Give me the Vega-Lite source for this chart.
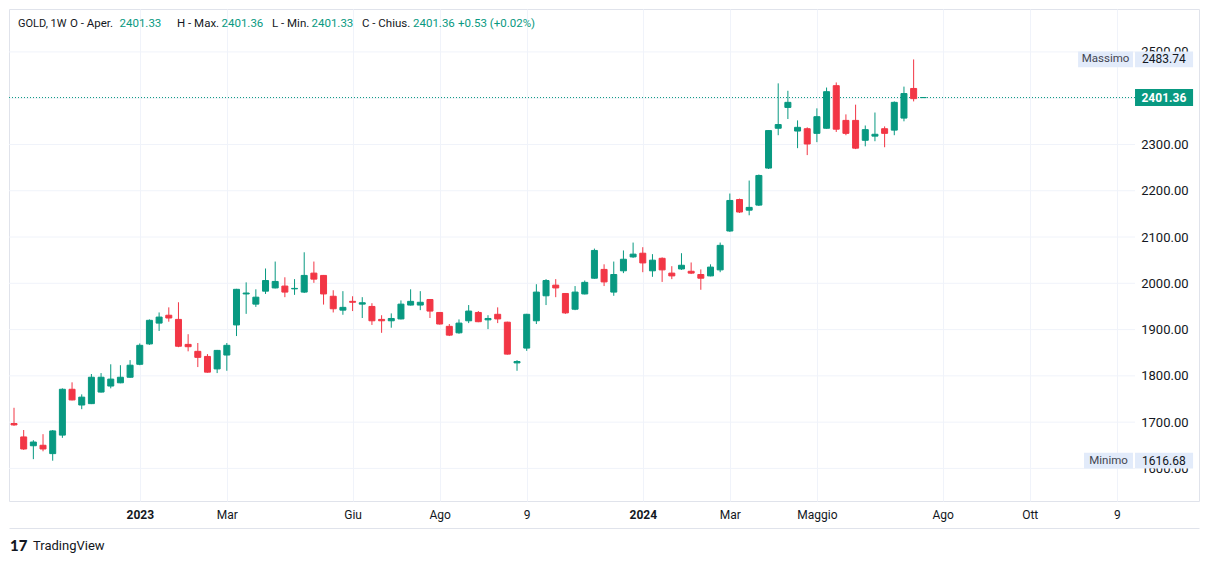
{
  "$schema": "https://vega.github.io/schema/vega-lite/v6.json",
  "width": 1190,
  "height": 492,
  "autosize": {"type": "none"},
  "padding": {"left": 9, "top": 9, "right": 10, "bottom": 63},
  "background": "#ffffff",
  "config": {"font": "Roboto", "view": {"stroke": "#e0e3eb"}},
  "datasets": {
    "grid": [{"p":1600},{"p":1700},{"p":1800},{"p":1900},{"p":2000},{"p":2100},{"p":2200},{"p":2300},{"p":2400},{"p":2500}],
    "candles": [
      {"d":"2022-10-03","o":1697,"h":1731,"l":1692,"c":1694},
      {"d":"2022-10-10","o":1668,"h":1683,"l":1640,"c":1642},
      {"d":"2022-10-17","o":1649,"h":1661,"l":1620,"c":1657},
      {"d":"2022-10-24","o":1650,"h":1674,"l":1637,"c":1642},
      {"d":"2022-10-31","o":1632,"h":1683,"l":1616.68,"c":1681},
      {"d":"2022-11-07","o":1672,"h":1773,"l":1666,"c":1771},
      {"d":"2022-11-14","o":1771,"h":1786,"l":1747,"c":1748},
      {"d":"2022-11-21","o":1737,"h":1760,"l":1728,"c":1754},
      {"d":"2022-11-28","o":1740,"h":1804,"l":1739,"c":1797},
      {"d":"2022-12-05","o":1765,"h":1806,"l":1764,"c":1797},
      {"d":"2022-12-12","o":1778,"h":1825,"l":1773,"c":1793},
      {"d":"2022-12-19","o":1785,"h":1823,"l":1784,"c":1797},
      {"d":"2022-12-26","o":1797,"h":1834,"l":1796,"c":1823},
      {"d":"2023-01-02","o":1825,"h":1870,"l":1823,"c":1866},
      {"d":"2023-01-09","o":1869,"h":1922,"l":1867,"c":1920},
      {"d":"2023-01-16","o":1914,"h":1937,"l":1897,"c":1927},
      {"d":"2023-01-23","o":1931,"h":1948,"l":1917,"c":1925},
      {"d":"2023-01-30","o":1922,"h":1959,"l":1862,"c":1864},
      {"d":"2023-02-06","o":1868,"h":1890,"l":1853,"c":1863},
      {"d":"2023-02-13","o":1853,"h":1871,"l":1819,"c":1840},
      {"d":"2023-02-20","o":1842,"h":1847,"l":1807,"c":1808},
      {"d":"2023-02-27","o":1815,"h":1856,"l":1806,"c":1855},
      {"d":"2023-03-06","o":1845,"h":1871,"l":1811,"c":1866},
      {"d":"2023-03-13","o":1910,"h":1988,"l":1886,"c":1987},
      {"d":"2023-03-20","o":1977,"h":2002,"l":1934,"c":1979},
      {"d":"2023-03-27","o":1955,"h":1987,"l":1949,"c":1970},
      {"d":"2023-04-03","o":1983,"h":2032,"l":1977,"c":2006},
      {"d":"2023-04-10","o":1990,"h":2047,"l":1989,"c":2004},
      {"d":"2023-04-17","o":1994,"h":2013,"l":1970,"c":1981},
      {"d":"2023-04-24","o":1988,"h":2009,"l":1975,"c":1989},
      {"d":"2023-05-01","o":1981,"h":2067,"l":1979,"c":2017},
      {"d":"2023-05-08","o":2022,"h":2047,"l":2001,"c":2009},
      {"d":"2023-05-15","o":2017,"h":2018,"l":1954,"c":1977},
      {"d":"2023-05-22","o":1972,"h":1985,"l":1937,"c":1945},
      {"d":"2023-05-29","o":1942,"h":1983,"l":1932,"c":1948},
      {"d":"2023-06-05","o":1961,"h":1972,"l":1940,"c":1959},
      {"d":"2023-06-12","o":1955,"h":1970,"l":1925,"c":1958},
      {"d":"2023-06-19","o":1950,"h":1957,"l":1910,"c":1919},
      {"d":"2023-06-26","o":1922,"h":1931,"l":1893,"c":1919},
      {"d":"2023-07-03","o":1919,"h":1935,"l":1904,"c":1924},
      {"d":"2023-07-10","o":1923,"h":1963,"l":1922,"c":1955},
      {"d":"2023-07-17","o":1953,"h":1987,"l":1952,"c":1961},
      {"d":"2023-07-24","o":1953,"h":1983,"l":1942,"c":1959},
      {"d":"2023-07-31","o":1965,"h":1966,"l":1925,"c":1940},
      {"d":"2023-08-07","o":1937,"h":1938,"l":1911,"c":1912},
      {"d":"2023-08-14","o":1907,"h":1912,"l":1886,"c":1888},
      {"d":"2023-08-21","o":1893,"h":1922,"l":1891,"c":1914},
      {"d":"2023-08-28","o":1919,"h":1953,"l":1914,"c":1940},
      {"d":"2023-09-04","o":1937,"h":1940,"l":1916,"c":1917},
      {"d":"2023-09-11","o":1921,"h":1931,"l":1901,"c":1924},
      {"d":"2023-09-18","o":1933,"h":1948,"l":1914,"c":1923},
      {"d":"2023-09-25","o":1916,"h":1917,"l":1846,"c":1847},
      {"d":"2023-10-02","o":1828,"h":1834,"l":1811,"c":1831},
      {"d":"2023-10-09","o":1860,"h":1934,"l":1854,"c":1933},
      {"d":"2023-10-16","o":1919,"h":1998,"l":1912,"c":1981},
      {"d":"2023-10-23","o":1973,"h":2009,"l":1953,"c":2006},
      {"d":"2023-10-30","o":1996,"h":2009,"l":1970,"c":1990},
      {"d":"2023-11-06","o":1978,"h":1979,"l":1934,"c":1936},
      {"d":"2023-11-13","o":1944,"h":1994,"l":1942,"c":1981},
      {"d":"2023-11-20","o":1977,"h":2006,"l":1976,"c":2002},
      {"d":"2023-11-27","o":2011,"h":2075,"l":2010,"c":2071},
      {"d":"2023-12-04","o":2030,"h":2041,"l":1994,"c":2003},
      {"d":"2023-12-11","o":1981,"h":2047,"l":1973,"c":2019},
      {"d":"2023-12-18","o":2027,"h":2071,"l":2022,"c":2052},
      {"d":"2023-12-25","o":2057,"h":2088,"l":2055,"c":2063},
      {"d":"2024-01-01","o":2065,"h":2078,"l":2024,"c":2044},
      {"d":"2024-01-08","o":2027,"h":2063,"l":2014,"c":2050},
      {"d":"2024-01-15","o":2054,"h":2056,"l":2003,"c":2029},
      {"d":"2024-01-22","o":2022,"h":2037,"l":2009,"c":2016},
      {"d":"2024-01-29","o":2031,"h":2065,"l":2029,"c":2039},
      {"d":"2024-02-05","o":2026,"h":2045,"l":2020,"c":2022},
      {"d":"2024-02-12","o":2019,"h":2030,"l":1986,"c":2011},
      {"d":"2024-02-19","o":2016,"h":2041,"l":2015,"c":2035},
      {"d":"2024-02-26","o":2029,"h":2088,"l":2024,"c":2082},
      {"d":"2024-03-04","o":2113,"h":2194,"l":2111,"c":2179},
      {"d":"2024-03-11","o":2181,"h":2183,"l":2152,"c":2154},
      {"d":"2024-03-18","o":2158,"h":2222,"l":2147,"c":2164},
      {"d":"2024-03-25","o":2169,"h":2235,"l":2167,"c":2233},
      {"d":"2024-04-01","o":2249,"h":2331,"l":2247,"c":2330},
      {"d":"2024-04-08","o":2335,"h":2432,"l":2320,"c":2343},
      {"d":"2024-04-15","o":2380,"h":2416,"l":2355,"c":2391},
      {"d":"2024-04-22","o":2329,"h":2352,"l":2292,"c":2337},
      {"d":"2024-04-29","o":2334,"h":2337,"l":2277,"c":2301},
      {"d":"2024-05-06","o":2324,"h":2378,"l":2305,"c":2360},
      {"d":"2024-05-13","o":2335,"h":2423,"l":2334,"c":2414},
      {"d":"2024-05-20","o":2427,"h":2434,"l":2327,"c":2333},
      {"d":"2024-05-27","o":2352,"h":2365,"l":2320,"c":2324},
      {"d":"2024-06-03","o":2352,"h":2386,"l":2290,"c":2292},
      {"d":"2024-06-10","o":2309,"h":2341,"l":2296,"c":2332},
      {"d":"2024-06-17","o":2318,"h":2369,"l":2307,"c":2322},
      {"d":"2024-06-24","o":2334,"h":2339,"l":2294,"c":2324},
      {"d":"2024-07-01","o":2331,"h":2393,"l":2320,"c":2391},
      {"d":"2024-07-08","o":2357,"h":2425,"l":2350,"c":2410},
      {"d":"2024-07-15","o":2421,"h":2483.74,"l":2393,"c":2399},
      {"d":"2024-07-22","o":2401.33,"h":2401.36,"l":2401.33,"c":2401.36}
    ]
  },
  "layer": [
    {
      "data": {"name": "grid"},
      "mark": {"type": "rule", "color": "#f0f3fa", "strokeWidth": 1},
      "encoding": {
        "y": {
          "field": "p", "type": "quantitative",
          "scale": {"domain": [1529.6, 2592.7], "zero": false, "nice": false},
          "axis": {
            "orient": "right", "title": null,
            "values": [1600, 1700, 1800, 1900, 2000, 2100, 2200, 2300, 2500],
            "format": ".2f", "grid": false, "ticks": false, "tickSize": 0, "domain": false,
            "labelAlign": "right", "labelPadding": -11, "labelBaseline": "middle",
            "labelFontSize": 13, "labelColor": "#131722"
          }
        },
        "x": {
          "datum": {"year": 2022, "month": 9, "date": 29, "hours": 9, "utc": true}, "type": "temporal",
          "scale": {"type": "utc", "padding": 0, "domain": [{"year": 2022, "month": 9, "date": 29, "hours": 9, "utc": true}, {"year": 2025, "month": 2, "date": 6, "hours": 12, "utc": true}]},
          "axis": {
            "title": null,
            "values": [
              {"year": 2023, "month": 1, "date": 2, "utc": true},
              {"year": 2023, "month": 3, "date": 6, "utc": true},
              {"year": 2023, "month": 6, "date": 5, "utc": true},
              {"year": 2023, "month": 8, "date": 7, "utc": true},
              {"year": 2023, "month": 10, "date": 9, "utc": true},
              {"year": 2024, "month": 1, "date": 1, "utc": true},
              {"year": 2024, "month": 3, "date": 4, "utc": true},
              {"year": 2024, "month": 5, "date": 6, "utc": true},
              {"year": 2024, "month": 8, "date": 5, "utc": true},
              {"year": 2024, "month": 10, "date": 7, "utc": true},
              {"year": 2024, "month": 12, "date": 9, "utc": true}
            ],
            "labelExpr": "utcmonth(datum.value) == 0 ? '' + utcyear(datum.value) : utcmonth(datum.value) == 2 ? 'Mar' : utcmonth(datum.value) == 4 ? 'Maggio' : utcmonth(datum.value) == 5 ? 'Giu' : utcmonth(datum.value) == 7 ? 'Ago' : (utcmonth(datum.value) == 9 && utcyear(datum.value) == 2024) ? 'Ott' : '9'",
            "labelFontWeight": {"condition": {"test": "utcmonth(datum.value) == 0", "value": "bold"}, "value": "normal"},
            "grid": true, "gridColor": "#f0f3fa",
            "ticks": false, "tickSize": 0,
            "domain": true, "domainColor": "#e0e3eb",
            "offset": 27, "labelPadding": -14, "labelBaseline": "middle",
            "labelFontSize": 12, "labelColor": "#131722",
            "labelFlush": false, "labelOverlap": false
          }
        },
        "x2": {"datum": {"year": 2024, "month": 12, "date": 22, "hours": 5, "utc": true}}
      }
    },
    {
      "data": {"values": [{}]},
      "mark": {"type": "rule", "color": "#089981", "strokeWidth": 1, "strokeDash": [1, 2]},
      "encoding": {
        "y": {"datum": 2401.36, "type": "quantitative"},
        "x": {"datum": {"year": 2022, "month": 9, "date": 29, "hours": 9, "utc": true}, "type": "temporal"},
        "x2": {"datum": {"year": 2024, "month": 12, "date": 22, "hours": 5, "utc": true}}
      }
    },
    {
      "data": {"name": "candles"},
      "mark": {"type": "rule", "strokeWidth": 1},
      "encoding": {
        "x": {"field": "d", "type": "temporal"},
        "y": {"field": "l", "type": "quantitative"},
        "y2": {"field": "h"},
        "color": {"condition": {"test": "datum.c >= datum.o", "value": "#089981"}, "value": "#f23645"}
      }
    },
    {
      "data": {"name": "candles"},
      "mark": {"type": "bar", "width": 6, "strokeWidth": 1},
      "encoding": {
        "x": {"field": "d", "type": "temporal"},
        "y": {"field": "o", "type": "quantitative"},
        "y2": {"field": "c"},
        "color": {"condition": {"test": "datum.c >= datum.o", "value": "#089981"}, "value": "#f23645"},
        "stroke": {"condition": {"test": "datum.c >= datum.o", "value": "#089981"}, "value": "#f23645"}
      }
    },
    {
      "data": {"values": [{}]},
      "mark": {"type": "rect", "color": "#e2ebfa"},
      "encoding": {
        "x": {"datum": {"year": 2024, "month": 11, "date": 11, "utc": true}, "type": "temporal"},
        "x2": {"datum": {"year": 2024, "month": 12, "date": 20, "hours": 17, "utc": true}},
        "y": {"datum": 2466.7, "type": "quantitative"},
        "y2": {"datum": 2500.7}
      }
    },
    {
      "data": {"values": [{}]},
      "mark": {"type": "rect", "color": "#e2ebfa"},
      "encoding": {
        "x": {"datum": {"year": 2024, "month": 12, "date": 22, "hours": 5, "utc": true}, "type": "temporal"},
        "x2": {"datum": {"year": 2025, "month": 2, "date": 2, "hours": 5, "utc": true}},
        "y": {"datum": 2466.7, "type": "quantitative"},
        "y2": {"datum": 2500.7}
      }
    },
    {
      "data": {"values": [{}]},
      "mark": {"type": "rect", "color": "#e2ebfa"},
      "encoding": {
        "x": {"datum": {"year": 2024, "month": 11, "date": 15, "hours": 7, "utc": true}, "type": "temporal"},
        "x2": {"datum": {"year": 2024, "month": 12, "date": 20, "hours": 17, "utc": true}},
        "y": {"datum": 1599.7, "type": "quantitative"},
        "y2": {"datum": 1633.7}
      }
    },
    {
      "data": {"values": [{}]},
      "mark": {"type": "rect", "color": "#e2ebfa"},
      "encoding": {
        "x": {"datum": {"year": 2024, "month": 12, "date": 22, "hours": 5, "utc": true}, "type": "temporal"},
        "x2": {"datum": {"year": 2025, "month": 2, "date": 2, "hours": 5, "utc": true}},
        "y": {"datum": 1599.7, "type": "quantitative"},
        "y2": {"datum": 1633.7}
      }
    },
    {
      "data": {"values": [{}]},
      "mark": {"type": "rect", "color": "#089981"},
      "encoding": {
        "x": {"datum": {"year": 2024, "month": 12, "date": 22, "hours": 5, "utc": true}, "type": "temporal"},
        "x2": {"datum": {"year": 2025, "month": 2, "date": 2, "hours": 5, "utc": true}},
        "y": {"datum": 2383, "type": "quantitative"},
        "y2": {"datum": 2420}
      }
    },
    {
      "data": {"values": [{}]},
      "mark": {"type": "text", "text": "Massimo", "fontSize": 11.5, "color": "#434651", "align": "center", "baseline": "middle"},
      "encoding": {
        "x": {"datum": {"year": 2024, "month": 11, "date": 30, "hours": 22, "utc": true}, "type": "temporal"},
        "y": {"datum": 2483.74, "type": "quantitative"}
      }
    },
    {
      "data": {"values": [{}]},
      "mark": {"type": "text", "text": "2483.74", "fontSize": 12, "color": "#131722", "align": "center", "baseline": "middle"},
      "encoding": {
        "x": {"datum": {"year": 2025, "month": 1, "date": 12, "hours": 2, "utc": true}, "type": "temporal"},
        "y": {"datum": 2483.74, "type": "quantitative"}
      }
    },
    {
      "data": {"values": [{}]},
      "mark": {"type": "text", "text": "Minimo", "fontSize": 11.5, "color": "#434651", "align": "center", "baseline": "middle"},
      "encoding": {
        "x": {"datum": {"year": 2024, "month": 12, "date": 3, "hours": 2, "utc": true}, "type": "temporal"},
        "y": {"datum": 1616.68, "type": "quantitative"}
      }
    },
    {
      "data": {"values": [{}]},
      "mark": {"type": "text", "text": "1616.68", "fontSize": 12, "color": "#131722", "align": "center", "baseline": "middle"},
      "encoding": {
        "x": {"datum": {"year": 2025, "month": 1, "date": 12, "hours": 2, "utc": true}, "type": "temporal"},
        "y": {"datum": 1616.68, "type": "quantitative"}
      }
    },
    {
      "data": {"values": [{}]},
      "mark": {"type": "text", "text": "2401.36", "fontSize": 12, "fontWeight": "bold", "color": "#ffffff", "align": "center", "baseline": "middle"},
      "encoding": {
        "x": {"datum": {"year": 2025, "month": 1, "date": 12, "hours": 2, "utc": true}, "type": "temporal"},
        "y": {"datum": 2401.36, "type": "quantitative"}
      }
    },
    {
      "data": {"values": [{}]},
      "mark": {"type": "text", "text": "GOLD, 1W", "dx": 9, "fontSize": 11, "color": "#131722", "align": "left", "baseline": "middle"},
      "encoding": {
        "x": {"datum": {"year": 2022, "month": 9, "date": 29, "hours": 9, "utc": true}, "type": "temporal"},
        "y": {"datum": 2560, "type": "quantitative"}
      }
    },
    {
      "data": {"values": [{}]},
      "mark": {"type": "text", "text": "O - Aper.", "dx": 61, "fontSize": 11.5, "color": "#131722", "align": "left", "baseline": "middle"},
      "encoding": {
        "x": {"datum": {"year": 2022, "month": 9, "date": 29, "hours": 9, "utc": true}, "type": "temporal"},
        "y": {"datum": 2560, "type": "quantitative"}
      }
    },
    {
      "data": {"values": [{}]},
      "mark": {"type": "text", "text": "2401.33", "dx": 110.5, "fontSize": 11.5, "color": "#089981", "align": "left", "baseline": "middle"},
      "encoding": {
        "x": {"datum": {"year": 2022, "month": 9, "date": 29, "hours": 9, "utc": true}, "type": "temporal"},
        "y": {"datum": 2560, "type": "quantitative"}
      }
    },
    {
      "data": {"values": [{}]},
      "mark": {"type": "text", "text": "H - Max.", "dx": 168, "fontSize": 11.5, "color": "#131722", "align": "left", "baseline": "middle"},
      "encoding": {
        "x": {"datum": {"year": 2022, "month": 9, "date": 29, "hours": 9, "utc": true}, "type": "temporal"},
        "y": {"datum": 2560, "type": "quantitative"}
      }
    },
    {
      "data": {"values": [{}]},
      "mark": {"type": "text", "text": "2401.36", "dx": 212.5, "fontSize": 11.5, "color": "#089981", "align": "left", "baseline": "middle"},
      "encoding": {
        "x": {"datum": {"year": 2022, "month": 9, "date": 29, "hours": 9, "utc": true}, "type": "temporal"},
        "y": {"datum": 2560, "type": "quantitative"}
      }
    },
    {
      "data": {"values": [{}]},
      "mark": {"type": "text", "text": "L - Min.", "dx": 263, "fontSize": 11.5, "color": "#131722", "align": "left", "baseline": "middle"},
      "encoding": {
        "x": {"datum": {"year": 2022, "month": 9, "date": 29, "hours": 9, "utc": true}, "type": "temporal"},
        "y": {"datum": 2560, "type": "quantitative"}
      }
    },
    {
      "data": {"values": [{}]},
      "mark": {"type": "text", "text": "2401.33", "dx": 302.5, "fontSize": 11.5, "color": "#089981", "align": "left", "baseline": "middle"},
      "encoding": {
        "x": {"datum": {"year": 2022, "month": 9, "date": 29, "hours": 9, "utc": true}, "type": "temporal"},
        "y": {"datum": 2560, "type": "quantitative"}
      }
    },
    {
      "data": {"values": [{}]},
      "mark": {"type": "text", "text": "C - Chius.", "dx": 353, "fontSize": 11.5, "color": "#131722", "align": "left", "baseline": "middle"},
      "encoding": {
        "x": {"datum": {"year": 2022, "month": 9, "date": 29, "hours": 9, "utc": true}, "type": "temporal"},
        "y": {"datum": 2560, "type": "quantitative"}
      }
    },
    {
      "data": {"values": [{}]},
      "mark": {"type": "text", "text": "2401.36", "dx": 404, "fontSize": 11.5, "color": "#089981", "align": "left", "baseline": "middle"},
      "encoding": {
        "x": {"datum": {"year": 2022, "month": 9, "date": 29, "hours": 9, "utc": true}, "type": "temporal"},
        "y": {"datum": 2560, "type": "quantitative"}
      }
    },
    {
      "data": {"values": [{}]},
      "mark": {"type": "text", "text": "+0.53 (+0.02%)", "dx": 449, "fontSize": 11.5, "color": "#089981", "align": "left", "baseline": "middle"},
      "encoding": {
        "x": {"datum": {"year": 2022, "month": 9, "date": 29, "hours": 9, "utc": true}, "type": "temporal"},
        "y": {"datum": 2560, "type": "quantitative"}
      }
    },
    {
      "data": {"values": [{}]},
      "mark": {"type": "text", "text": "17", "dx": 1, "fontSize": 15, "font": "Lato", "fontWeight": 900, "color": "#131722", "align": "left", "baseline": "middle"},
      "encoding": {
        "x": {"datum": {"year": 2022, "month": 9, "date": 29, "hours": 9, "utc": true}, "type": "temporal"},
        "y": {"datum": 1432.4, "type": "quantitative"}
      }
    },
    {
      "data": {"values": [{}]},
      "mark": {"type": "text", "text": "TradingView", "dx": 24, "fontSize": 13, "color": "#131722", "align": "left", "baseline": "middle"},
      "encoding": {
        "x": {"datum": {"year": 2022, "month": 9, "date": 29, "hours": 9, "utc": true}, "type": "temporal"},
        "y": {"datum": 1432.4, "type": "quantitative"}
      }
    }
  ]
}
